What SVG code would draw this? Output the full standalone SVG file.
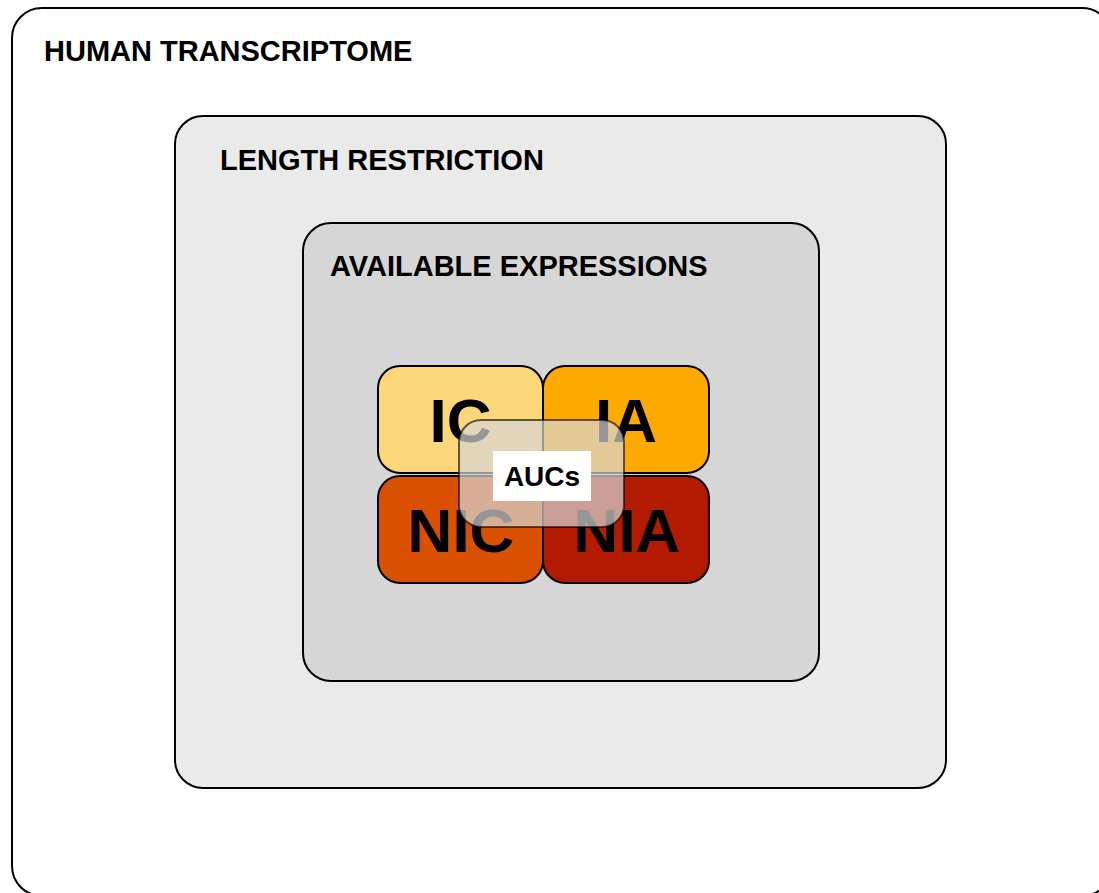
<svg xmlns="http://www.w3.org/2000/svg" width="1099" height="893" viewBox="0 0 1099 893">
<style>
.box{stroke:#000;stroke-width:2}
.title{font-family:"Liberation Sans",Arial,sans-serif;font-weight:bold;font-size:29px;fill:#000}
.big{font-family:"Liberation Sans",Arial,sans-serif;font-weight:bold;font-size:62px;fill:#000;text-anchor:middle}
.auc{font-family:"Liberation Sans",Arial,sans-serif;font-weight:bold;font-size:28px;fill:#000;text-anchor:middle}
</style>
<rect width="1099" height="893" fill="#fff"/>
<g id="human-transcriptome">
<rect class="box" x="12" y="8" width="1100" height="888" rx="30" fill="#fff"/>
<text class="title" x="44" y="61">HUMAN TRANSCRIPTOME</text>
</g>
<g id="length-restriction">
<rect class="box" x="175" y="116" width="771" height="672" rx="28" fill="#eaeaea"/>
<text class="title" x="220" y="170">LENGTH RESTRICTION</text>
</g>
<g id="available-expressions">
<rect class="box" x="303" y="223" width="516" height="458" rx="28" fill="#d6d6d6"/>
<text class="title" x="330" y="276">AVAILABLE EXPRESSIONS</text>
</g>
<g id="IC">
<rect class="box" x="378" y="366" width="165" height="107" rx="22" fill="#fdd779"/>
<text class="big" x="460.5" y="442">IC</text>
</g>
<g id="IA">
<rect class="box" x="543" y="366" width="166" height="107" rx="22" fill="#ffaa00"/>
<text class="big" x="626" y="442">IA</text>
</g>
<g id="NIC">
<rect class="box" x="378" y="476" width="165" height="107" rx="22" fill="#d95000"/>
<text class="big" x="461" y="552">NIC</text>
</g>
<g id="NIA">
<rect class="box" x="543" y="476" width="166" height="107" rx="22" fill="#b31b00"/>
<text class="big" x="627" y="552">NIA</text>
</g>
<g id="AUCs">
<rect x="459" y="420" width="165" height="107" rx="22" fill="#d5d5d5" fill-opacity="0.7" stroke="#000" stroke-opacity="0.6" stroke-width="2"/>
<rect x="493" y="451" width="98" height="50" fill="#fff"/>
<text class="auc" x="542" y="486">AUCs</text>
</g>
<g id="connectors"/>
</svg>
